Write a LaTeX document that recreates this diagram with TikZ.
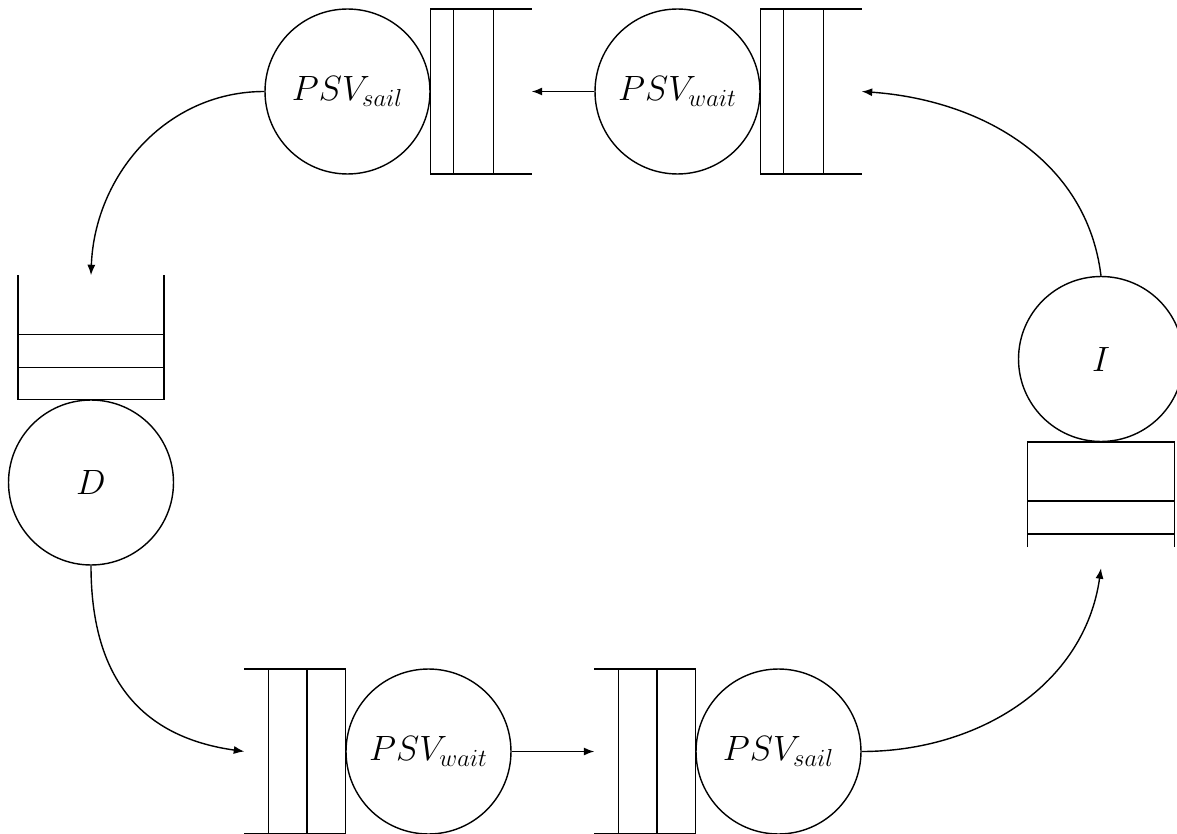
\RequirePackage{fix-cm}
\documentclass[tikz,border=0pt]{standalone}
\usetikzlibrary{arrows.meta,calc}

\tikzset{
  server/.style={circle,draw,line width=0.8pt,minimum size=3.3cm,inner sep=0pt,
    font=\fontsize{20}{24}\selectfont},
  queue/.style={line width=0.8pt},
  flow/.style={line width=0.8pt,-{Latex[length=6pt,width=4.6pt]}}
}

\begin{document}
\begin{tikzpicture}[x=0.02cm,y=0.02cm]
  \useasboundingbox (0,0) rectangle (1177,833);
  \clip (0,0) rectangle (1177,833);

  % service stations
  \node[server] (ps1) at (347.5,741.5) {$PSV_{sail}$};
  \node[server] (pw1) at (677.5,741.5) {$PSV_{wait}$};
  \node[server] (I)   at (1101,474)    {$I$};
  \node[server] (D)   at (91,350.5)    {$D$};
  \node[server] (pw2) at (428.5,81.5)  {$PSV_{wait}$};
  \node[server] (ps2) at (778.5,81.5)  {$PSV_{sail}$};

  % queues, open towards their inflow
  % top row: queue to the right of each server
  \foreach \s in {ps1,pw1}{
    \draw[queue] ($(\s.east)+(101,82.5)$) -- ++(-101,0) -- ++(0,-165) -- ++(101,0);
    \draw[queue] ($(\s.east)+(23,82.5)$) -- ++(0,-165);
    \draw[queue] ($(\s.east)+(63,82.5)$) -- ++(0,-165);
  }
  % bottom row: queue to the left of each server
  \foreach \s in {pw2,ps2}{
    \draw[queue] ($(\s.west)+(-101,82.5)$) -- ++(101,0) -- ++(0,-165) -- ++(-101,0);
    \draw[queue] ($(\s.west)+(-38.5,82.5)$) -- ++(0,-165);
    \draw[queue] ($(\s.west)+(-77,82.5)$) -- ++(0,-165);
  }
  % queue above D
  \draw[queue] ($(D.north)+(-73,124)$) -- ++(0,-124) -- ++(146,0) -- ++(0,124);
  \draw[queue] ($(D.north)+(-73,32)$) -- ++(146,0);
  \draw[queue] ($(D.north)+(-73,65)$) -- ++(146,0);
  % queue below I
  \draw[queue] ($(I.south)+(-73.5,-105)$) -- ++(0,105) -- ++(147,0) -- ++(0,-105);
  \draw[queue] ($(I.south)+(-73.5,-59)$) -- ++(147,0);
  \draw[queue] ($(I.south)+(-73.5,-92)$) -- ++(147,0);

  % queue entry points
  \coordinate (q1in) at ($(ps1.east)+(101,0)$);
  \coordinate (q2in) at ($(pw1.east)+(101,0)$);
  \coordinate (dIn)  at ($(D.north)+(0,124)$);
  \coordinate (q3in) at ($(pw2.west)+(-101,0)$);
  \coordinate (q4in) at ($(ps2.west)+(-101,0)$);
  \coordinate (iIn)  at ($(I.south)+(0,-126)$);

  % flows
  \draw[flow] (pw1.west) -- (q1in);
  \draw[flow] (ps1.west) to[out=180,in=88] (dIn);
  \draw[flow] (D.south) to[out=-90,in=172,looseness=1.15] (q3in);
  \draw[flow] (pw2.east) -- (q4in);
  \draw[flow] (ps2.east) to[out=0,in=-98] (iIn);
  \draw[flow] (I.north) to[out=97,in=-4] (q2in);
\end{tikzpicture}
\end{document}
